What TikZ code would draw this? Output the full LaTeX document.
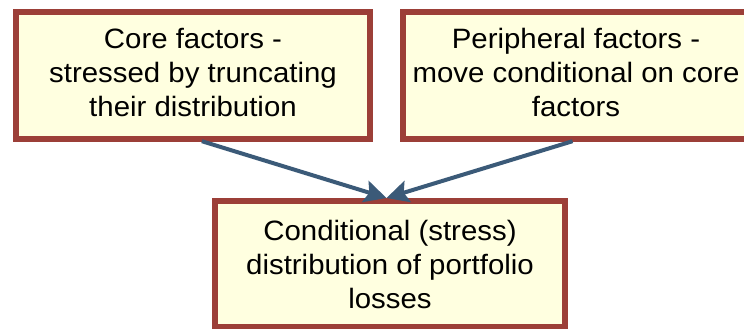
\documentclass[tikz,border=0pt]{standalone}
\usepackage{fontspec}
\setmainfont[FakeStretch=1.05]{Liberation Sans}
\usetikzlibrary{arrows.meta,calc}
\definecolor{boxborder}{HTML}{9C3F38}
\definecolor{boxfill}{HTML}{FFFFE0}
\definecolor{arrowblue}{HTML}{3B5A78}
\newcommand{\lowpad}{\rule[-6pt]{0pt}{6pt}}
\begin{document}
\begin{tikzpicture}[x=1pt,y=-1pt,
  factorbox/.style={draw=boxborder, fill=boxfill, line width=5.5pt, rectangle,
    align=center, inner sep=0pt, outer sep=0pt,
    font=\fontsize{28}{34}\selectfont},
  flowarrow/.style={draw=arrowblue, line width=4pt,
    -{Stealth[length=22pt,width=22pt,inset=4pt]}}]
\useasboundingbox (0,0) rectangle (744,329);
\clip (0,0) rectangle (744,329);
\node[factorbox, minimum width=354pt, minimum height=127pt] (core) at (193,75.7)
  {Core factors -\\stressed by truncating\\their distribution\lowpad};
\node[factorbox, minimum width=346pt, minimum height=127pt] (periph) at (576,75.7)
  {Peripheral factors -\\move conditional on core\\factors\lowpad};
\node[factorbox, minimum width=350pt, minimum height=126pt] (cond) at (390,264)
  {Conditional (stress)\\distribution of portfolio\\losses};
\coordinate (target) at ($(cond.north west)!0.49!(cond.north east)+(0,-3)$);
\draw[flowarrow] ($(core.south west)!0.525!(core.south east)+(0,2)$) -- (target);
\draw[flowarrow] ($(periph.south west)!0.49!(periph.south east)+(0,2)$) -- (target);
\end{tikzpicture}
\end{document}
